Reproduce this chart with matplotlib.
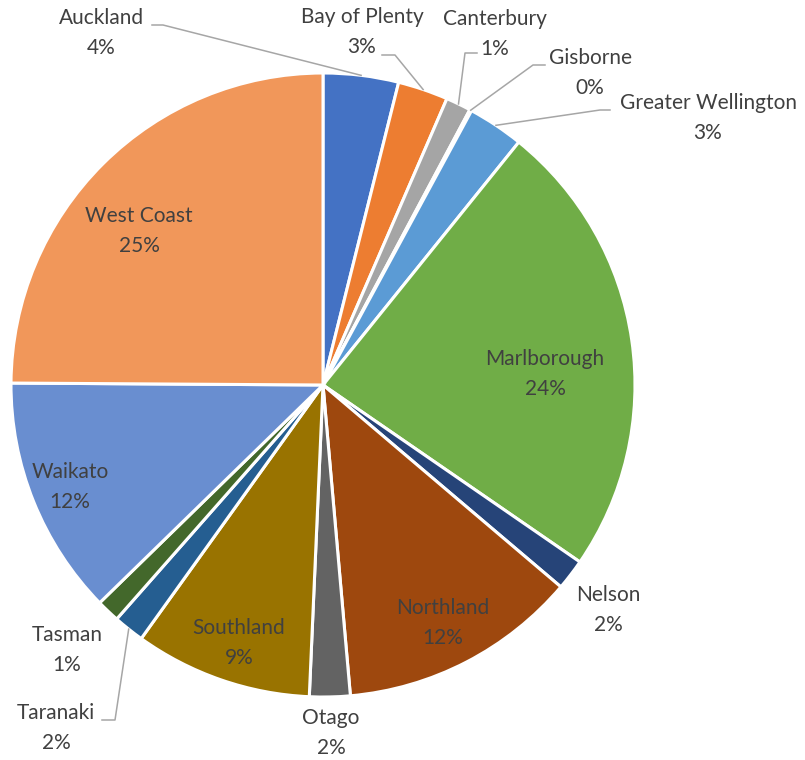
import numpy as np
import matplotlib
matplotlib.use("Agg")
import matplotlib.pyplot as plt

plt.rcParams['font.family'] = ['Lato', 'DejaVu Sans']

regions = ['Auckland', 'Bay of Plenty', 'Canterbury', 'Gisborne', 'Greater Wellington',
           'Marlborough', 'Nelson', 'Northland', 'Otago', 'Southland', 'Taranaki',
           'Tasman', 'Waikato', 'West Coast']
share = [3.9, 2.6, 1.3, 0.1, 2.9, 23.8, 1.6, 12.4, 2.1, 9.2, 1.6, 1.2, 12.4, 24.9]
colors = ['#4472C4', '#ED7D31', '#A5A5A5', '#FFC000', '#5B9BD5', '#70AD47', '#264478',
          '#9E480E', '#636363', '#997300', '#255E91', '#43682B', '#698ED0', '#F1975A']

# label block centres in pixels (x, y from top), pie centre at (323, 385), radius 312 px
label_px = {
    'Auckland': (101, 33), 'Bay of Plenty': (362, 32), 'Canterbury': (495, 34),
    'Gisborne': (590, 73), 'Greater Wellington': (708, 118), 'Marlborough': (545, 374),
    'Nelson': (608, 610), 'Northland': (443, 623), 'Otago': (331, 733),
    'Southland': (239, 643), 'Taranaki': (56, 728), 'Tasman': (67, 650),
    'Waikato': (70, 487), 'West Coast': (139, 231),
}
# leader lines: start at label, elbow, then run to the slice edge
leaders = {
    'Auckland': [(152, 25), (163, 25)],
    'Bay of Plenty': [(382, 55), (395, 55)],
    'Canterbury': [(477, 53), (465, 53)],
    'Gisborne': [(545, 65), (533, 65)],
    'Greater Wellington': [(610, 110), (600, 110)],
    'Taranaki': [(102, 720), (115, 720)],
}

CX, CY, R = 323, 385, 312


def px(p):
    return ((p[0] - CX) / R, (CY - p[1]) / R)


fig = plt.figure(figsize=(8.05, 7.6), dpi=100)
ax = fig.add_axes([0, 0, 1, 1])
wedges, _ = ax.pie(share, colors=colors, startangle=90, counterclock=False, radius=1,
                   wedgeprops=dict(edgecolor='white', linewidth=2.2))
ax.set_xlim(-CX / R, (805 - CX) / R)
ax.set_ylim((CY - 760) / R, CY / R)
ax.set_aspect('equal')
ax.axis('off')

for w, name, val in zip(wedges, regions, share):
    x, y = px(label_px[name])
    ax.text(x, y, f"{name}\n{round(val):.0f}%", ha='center', va='center',
            fontsize=15, color='#404040', linespacing=1.65)
    if name in leaders:
        mid = np.deg2rad((w.theta1 + w.theta2) / 2)
        pts = [px(p) for p in leaders[name]] + [(np.cos(mid), np.sin(mid))]
        xs, ys = zip(*pts)
        ax.plot(xs, ys, color='#A6A6A6', linewidth=1.1)

fig.savefig('out.png', dpi=100)
